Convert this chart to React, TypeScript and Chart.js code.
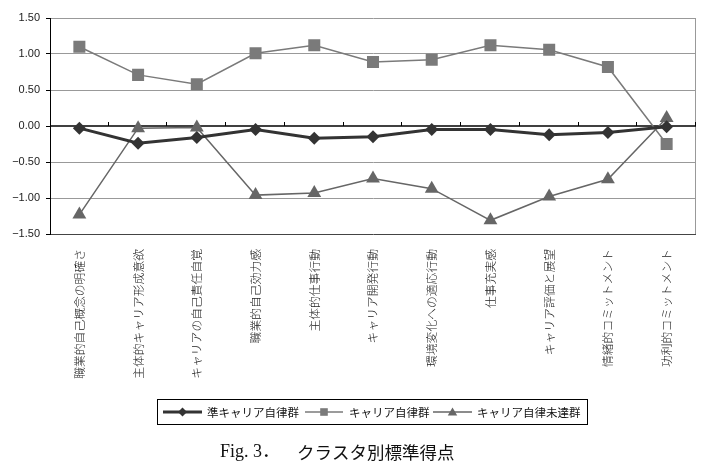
import React, { useEffect, useRef } from "react";
import { Chart, registerables } from "chart.js";

Chart.register(...registerables);

const categories = [
  "職業的自己概念の明確さ",
  "主体的キャリア形成意欲",
  "キャリアの自己責任自覚",
  "職業的自己効力感",
  "主体的仕事行動",
  "キャリア開発行動",
  "環境変化への適応行動",
  "仕事充実感",
  "キャリア評価と展望",
  "情緒的コミットメント",
  "功利的コミットメント",
];

const seriesNames = ["準キャリア自律群", "キャリア自律群", "キャリア自律未達群"];

const semiAutonomous = [-0.03, -0.24, -0.16, -0.05, -0.17, -0.15, -0.05, -0.05, -0.12, -0.09, -0.01];
const autonomous = [1.1, 0.71, 0.58, 1.01, 1.12, 0.89, 0.92, 1.12, 1.06, 0.82, -0.25];
const notYetAutonomous = [-1.23, -0.03, -0.02, -0.96, -0.93, -0.73, -0.87, -1.31, -0.98, -0.74, 0.11];

const yMin = -1.5;
const yMax = 1.5;
const yStep = 0.5;

const captionFig = "Fig. 3．";
const captionTitle = "クラスタ別標準得点";

const colors = ["#333333", "#7a7a7a", "#666666"];
const markerStyles = ["rectRot", "rect", "triangle"];

function drawMarker(ctx: CanvasRenderingContext2D, style: string, x: number, y: number, s: number, color: string) {
  ctx.fillStyle = color;
  ctx.beginPath();
  if (style === "rectRot") {
    ctx.moveTo(x, y - s);
    ctx.lineTo(x + s, y);
    ctx.lineTo(x, y + s);
    ctx.lineTo(x - s, y);
  } else if (style === "rect") {
    ctx.rect(x - s, y - s, 2 * s, 2 * s);
  } else {
    ctx.moveTo(x, y - s);
    ctx.lineTo(x + s * 1.05, y + s * 0.75);
    ctx.lineTo(x - s * 1.05, y + s * 0.75);
  }
  ctx.closePath();
  ctx.fill();
}

const framePlugin = {
  id: "frame",
  beforeDatasetsDraw(chart: any) {
    const { ctx, chartArea: a, scales } = chart;
    const y0 = Math.round(scales.y.getPixelForValue(0));
    ctx.save();
    ctx.strokeStyle = "#999999";
    ctx.lineWidth = 1;
    ctx.beginPath();
    ctx.moveTo(Math.round(a.right) - 0.5, a.top);
    ctx.lineTo(Math.round(a.right) - 0.5, a.bottom);
    ctx.stroke();
    ctx.strokeStyle = "#000000";
    ctx.lineWidth = 1.3;
    ctx.beginPath();
    ctx.moveTo(a.left, y0);
    ctx.lineTo(a.right, y0);
    ctx.stroke();
    const n = categories.length;
    const w = (a.right - a.left) / n;
    ctx.lineWidth = 1;
    ctx.beginPath();
    for (let k = 1; k <= n; k++) {
      const x = Math.round(a.left + k * w) - 0.5;
      ctx.moveTo(x, y0);
      ctx.lineTo(x, y0 - 4);
    }
    ctx.stroke();
    ctx.restore();
  },
  afterDraw(chart: any) {
    const { ctx } = chart;
    ctx.save();
    // legend box
    ctx.strokeStyle = "#000000";
    ctx.lineWidth = 1;
    ctx.strokeRect(157.5, 399.5, 430, 25);
    const items = [
      { x1: 163, x2: 202, tx: 207, lw: 3, ms: 4.5 },
      { x1: 305, x2: 343, tx: 349, lw: 1.5, ms: 3.8 },
      { x1: 433, x2: 472, tx: 477, lw: 1.5, ms: 4.5 },
    ];
    const ly = 412;
    items.forEach((it, i) => {
      ctx.strokeStyle = colors[i];
      ctx.lineWidth = it.lw;
      ctx.beginPath();
      ctx.moveTo(it.x1, ly);
      ctx.lineTo(it.x2, ly);
      ctx.stroke();
      drawMarker(ctx, markerStyles[i], (it.x1 + it.x2) / 2, ly, it.ms, colors[i]);
      ctx.fillStyle = "#111111";
      ctx.font = "11.5px 'Noto Sans CJK JP'";
      ctx.textBaseline = "middle";
      ctx.textAlign = "left";
      ctx.fillText(seriesNames[i], it.tx, ly + 0.5);
    });
    // caption
    ctx.fillStyle = "#111111";
    ctx.textBaseline = "middle";
    ctx.textAlign = "left";
    ctx.font = "18px 'Liberation Serif', 'Noto Sans CJK JP'";
    ctx.fillText(captionFig, 220, 452);
    ctx.font = "17.5px 'Noto Sans CJK JP'";
    ctx.fillText(captionTitle, 297, 452);
    ctx.restore();
  },
};

export default function App() {
  const canvasRef = useRef<HTMLCanvasElement | null>(null);

  useEffect(() => {
    const canvas = canvasRef.current;
    if (!canvas) return;
    const values = [semiAutonomous, autonomous, notYetAutonomous];
    const chart = new Chart(canvas, {
      type: "line",
      data: {
        labels: categories,
        datasets: values.map((v, i) => ({
          label: seriesNames[i],
          data: v,
          borderColor: colors[i],
          backgroundColor: colors[i],
          pointBackgroundColor: colors[i],
          pointBorderColor: colors[i],
          borderWidth: i === 0 ? 3 : 1.5,
          pointBorderWidth: 0,
          pointStyle: markerStyles[i] as any,
          pointRadius: i === 0 ? 6.5 : i === 1 ? 8.5 : 8,
          pointHoverRadius: i === 0 ? 6.5 : i === 1 ? 8.5 : 8,
          tension: 0,
          fill: false,
        })),
      },
      options: {
        responsive: false,
        animation: false,
        events: [],
        layout: { padding: { top: 18, right: 20, left: 0, bottom: 0 } },
        plugins: {
          legend: { display: false },
          tooltip: { enabled: false },
          title: { display: false },
        },
        scales: {
          x: {
            type: "category",
            offset: true,
            grid: { display: false },
            border: { display: false },
            ticks: {
              autoSkip: false,
              minRotation: 90,
              maxRotation: 90,
              padding: 7,
              color: "#222222",
              font: { family: "'Noto Sans CJK JP'", size: 11.8, weight: "300" as any },
            },
            afterFit: (scale: any) => {
              scale.height = 236;
            },
          },
          y: {
            min: yMin,
            max: yMax,
            border: { display: true, color: "#000000", width: 1 },
            grid: {
              drawTicks: true,
              tickLength: 4,
              tickColor: "#000000",
              color: (c: any) => {
                const v = c.tick ? c.tick.value : 0;
                if (Math.abs(v) < 1e-9) return "rgba(0,0,0,0)";
                if (v <= yMin + 1e-9) return "#444444";
                return "#999999";
              },
              lineWidth: 1,
            },
            ticks: {
              stepSize: yStep,
              padding: 6,
              color: "#222222",
              font: { family: "'Liberation Sans', Arial", size: 11 },
              callback: (v: any) => {
                const n = Number(v);
                const s = Math.abs(n).toFixed(2);
                return n < -1e-9 ? "\u2212" + s : s;
              },
            },
            afterFit: (scale: any) => {
              scale.width = 50;
            },
          },
        },
      },
      plugins: [framePlugin],
    });
    return () => chart.destroy();
  }, []);

  return (
    <div style={{ position: "absolute", left: 0, top: 0, width: 716, height: 470, background: "#ffffff" }}>
      <canvas ref={canvasRef} width={716} height={470} style={{ display: "block", width: 716, height: 470 }} />
    </div>
  );
}
